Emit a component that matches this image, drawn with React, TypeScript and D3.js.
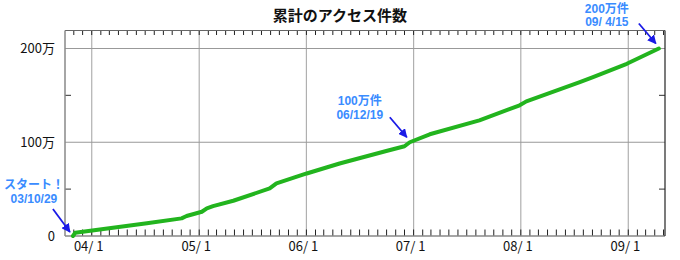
import React from "react";
import * as d3 from "d3";

const dates: string[] = [
  "2003-10-29", "2003-11-06", "2004-07-07", "2004-11-02", "2004-11-19",
  "2005-01-10", "2005-01-27", "2005-02-17", "2005-04-27", "2005-08-29",
  "2005-09-21", "2006-01-02", "2006-04-24", "2006-09-30", "2006-12-01",
  "2006-12-19", "2007-02-25", "2007-08-13", "2007-12-28", "2008-01-20",
  "2008-07-20", "2008-09-03", "2008-12-27", "2009-04-15",
];
// cumulative access count, in 万 (10,000)
const values: number[] = [
  0, 3.5, 13.5, 18.8, 21.3,
  25.9, 29.5, 31.9, 37.6, 50.7,
  56.1, 66.7, 77.3, 90.7, 95.7,
  100, 108.5, 123.4, 139.4, 143.6,
  164.1, 169.5, 183.7, 200,
];
const yTickValues: number[] = [0, 100, 200];
const yTickLabels: string[] = ["0", "100万", "200万"];
const yMinorTicks: number[] = [50, 150];
const xYearTicks: string[] = ["2004-01-01", "2005-01-01", "2006-01-01", "2007-01-01", "2008-01-01", "2009-01-01"];
const xYearLabels: string[] = ["04/ 1", "05/ 1", "06/ 1", "07/ 1", "08/ 1", "09/ 1"];
const annotations = [
  { date: "2003-10-29", value: 0, lines: ["スタート！", "03/10/29"] },
  { date: "2006-12-19", value: 100, lines: ["100万件", "06/12/19"] },
  { date: "2009-04-15", value: 200, lines: ["200万件", "09/ 4/15"] },
];

const W = 680, H = 260;
const left = 65, right = 665, top = 30.5, bottom = 236;
const parse = d3.timeParse("%Y-%m-%d");

export default function App() {
  const x = d3.scaleTime()
    .domain([parse("2003-10-02")!, parse("2009-05-06")!])
    .range([left, right]);
  const y = d3.scaleLinear().domain([0, 200]).range([bottom, 48.5]);

  const data = dates.map((d, i) => ({ d: parse(d)!, v: values[i] }));
  const line = d3.line<{ d: Date; v: number }>()
    .x((p) => x(p.d))
    .y((p) => y(p.v));

  const months = d3.timeMonth.range(x.domain()[0], x.domain()[1]);
  const font = "'Noto Sans CJK JP', 'Noto Sans', sans-serif";
  const annFont = "'Liberation Sans', 'Noto Sans CJK JP', sans-serif";

  const annLayout = [
    { tx: -39, ty: -47, ax0: -20, ay0: -27, ax1: -3, ay1: -4 },
    { tx: -50, ty: -37, ax0: -20, ay0: -25, ax1: -3, ay1: -5 },
    { tx: -52, ty: -36, ax0: -20, ay0: -25, ax1: -3, ay1: -5 },
  ];

  return (
    <svg width={W} height={H} style={{ position: "absolute", left: 0, top: 0, background: "#fff" }}>
      <defs>
        <marker id="ah" viewBox="0 0 10 10" refX="9" refY="5" markerWidth="5" markerHeight="5" orient="auto">
          <path d="M0,0 L10,5 L0,10 z" fill="#1a1ae6" />
        </marker>
      </defs>
      <text x={340} y={21} textAnchor="middle" fontFamily={font} fontWeight="bold" fontSize={15} fill="#111">
        累計のアクセス件数
      </text>

      {xYearTicks.map((t) => (
        <line key={t} x1={x(parse(t)!)} x2={x(parse(t)!)} y1={top} y2={bottom} stroke="#b0b0b0" strokeWidth={1.2} />
      ))}
      {yTickValues.filter((v) => v > 0).map((v) => (
        <line key={v} x1={left} x2={right} y1={y(v)} y2={y(v)} stroke="#999" strokeWidth={1.2} />
      ))}

      {months.map((m) => (
        <g key={+m}>
          <line x1={x(m)} x2={x(m)} y1={top} y2={top + 4.5} stroke="#222" strokeWidth={1} />
          <line x1={x(m)} x2={x(m)} y1={bottom} y2={bottom - 6.5} stroke="#222" strokeWidth={1} />
        </g>
      ))}
      {yMinorTicks.map((v) => (
        <g key={v}>
          <line x1={left} x2={left + 6} y1={y(v)} y2={y(v)} stroke="#555" strokeWidth={1.2} />
          <line x1={right} x2={right - 6} y1={y(v)} y2={y(v)} stroke="#555" strokeWidth={1.2} />
        </g>
      ))}

      <line x1={left} x2={right} y1={top} y2={top} stroke="#666" strokeWidth={1.2} />
      <line x1={left} x2={right} y1={bottom} y2={bottom} stroke="#888" strokeWidth={1.5} />
      <line x1={left} x2={left} y1={top} y2={bottom} stroke="#888" strokeWidth={1.5} />
      <line x1={right} x2={right} y1={top} y2={bottom} stroke="#222" strokeWidth={1.2} />

      {yTickValues.map((v, i) => (
        <text key={v} x={55} y={y(v)} dy="0.36em" textAnchor="end" fontFamily={font} fontSize={13} fill="#111">
          {yTickLabels[i]}
        </text>
      ))}
      {xYearTicks.map((t, i) => (
        <text key={t} x={x(parse(t)!) - 3} y={251} textAnchor="middle" fontFamily={font} fontSize={13} fill="#111">
          {xYearLabels[i]}
        </text>
      ))}

      <path d={line(data)!} fill="none" stroke="#22b41e" strokeWidth={4} strokeLinecap="round" strokeLinejoin="round" />

      {annotations.map((a, i) => {
        const px = x(parse(a.date)!);
        const py = y(a.value);
        const L = annLayout[i];
        return (
          <g key={a.date}>
            <line x1={px + L.ax0} y1={py + L.ay0} x2={px + L.ax1} y2={py + L.ay1}
              stroke="#1a1ae6" strokeWidth={1.8} markerEnd="url(#ah)" />
            {a.lines.map((s, j) => (
              <text key={j} x={px + L.tx} y={py + L.ty + j * 13.5} textAnchor="middle"
                fontFamily={annFont} fontWeight="bold" fontSize={12} fill="#3a8cff">
                {s}
              </text>
            ))}
          </g>
        );
      })}
    </svg>
  );
}
